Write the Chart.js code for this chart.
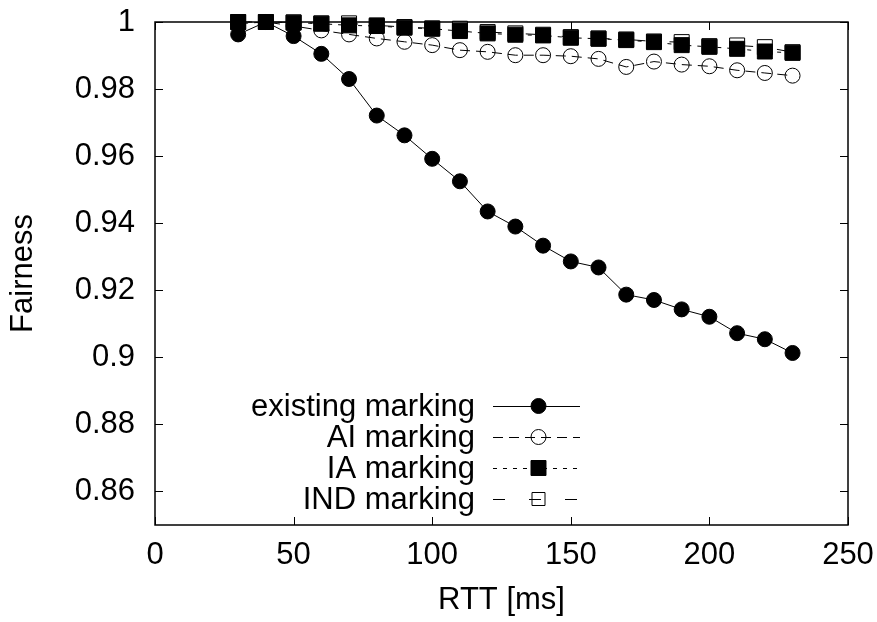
<!DOCTYPE html>
<html>
<head>
<meta charset="utf-8">
<script src="https://cdn.jsdelivr.net/npm/chart.js@4/dist/chart.umd.min.js"></script>
<style>
  html, body { margin: 0; padding: 0; background: #fff; }
  #wrap { width: 877px; height: 622px; }
</style>
</head>
<body>
<div id="wrap"><canvas id="chart" width="877" height="622"></canvas></div>
<script>
/* ========= Data ========= */
const rtt = [30, 40, 50, 60, 70, 80, 90, 100, 110, 120, 130, 140, 150, 160, 170, 180, 190, 200, 210, 220, 230];

const existingMarking = [0.9963, 1.0, 0.9958, 0.9905, 0.9830, 0.9721, 0.9662, 0.9592, 0.9525, 0.9435, 0.9390,
                         0.9333, 0.9286, 0.9268, 0.9187, 0.9171, 0.9143, 0.9121, 0.9072, 0.9054, 0.9013];
const aiMarking       = [0.9995, 1.0, 0.9988, 0.9975, 0.9963, 0.9951, 0.9941, 0.9931, 0.9916, 0.9911, 0.9901,
                         0.9901, 0.9898, 0.9890, 0.9866, 0.9882, 0.9873, 0.9868, 0.9856, 0.9848, 0.9840];
const iaMarking       = [1.0, 1.0, 0.9998, 0.9995, 0.9990, 0.9988, 0.9983, 0.9980, 0.9973, 0.9966, 0.9962,
                         0.9960, 0.9953, 0.9950, 0.9946, 0.9940, 0.9931, 0.9926, 0.9920, 0.9912, 0.9908];
const indMarking      = [1.0, 1.0, 0.9999, 0.9996, 0.9996, 0.9990, 0.9985, 0.9981, 0.9980, 0.9970, 0.9966,
                         0.9962, 0.9955, 0.9951, 0.9948, 0.9942, 0.9940, 0.9928, 0.9930, 0.9925, 0.9910];

const seriesNames = ['existing marking', 'AI marking', 'IA marking', 'IND marking'];
const xTicks = [0, 50, 100, 150, 200, 250];
const yTicks = [0.86, 0.88, 0.9, 0.92, 0.94, 0.96, 0.98, 1];

/* ========= Styles ========= */
const FONT = "'Liberation Sans', Arial, sans-serif";
const FSIZE = 31;
Chart.defaults.color = '#000';
Chart.defaults.font.family = FONT;

const styles = [
  { dash: [],        shape: 'circle', fill: true,  size: 7.5 },
  { dash: [10, 6],   shape: 'circle', fill: false, size: 7.5 },
  { dash: [4, 6],    shape: 'rect',   fill: true,  size: 10.6 },
  { dash: [12, 24],  shape: 'rect',   fill: false, size: 10.6 }
];

function makeSet(name, values, st, order) {
  return {
    label: name,
    data: rtt.map((x, i) => ({ x, y: values[i] })),
    borderColor: '#000',
    borderWidth: 1,
    borderDash: st.dash,
    pointStyle: st.shape,
    pointRadius: st.size,
    pointHoverRadius: st.size,
    pointBackgroundColor: st.fill ? '#000' : 'rgba(0,0,0,0)',
    pointBorderColor: '#000',
    pointBorderWidth: 1,
    tension: 0,
    clip: false,
    order
  };
}

/* ========= Plugins ========= */
// gnuplot style frame with inward ticks on all four sides
const framePlugin = {
  id: 'frame',
  beforeDatasetsDraw(chart) {
    const { ctx, chartArea: a, scales: { x, y } } = chart;
    ctx.save();
    ctx.strokeStyle = '#000';
    ctx.lineWidth = 1.5;
    ctx.strokeRect(a.left, a.top, a.right - a.left, a.bottom - a.top);
    ctx.lineWidth = 1;
    ctx.beginPath();
    xTicks.forEach(v => {
      const px = Math.round(x.getPixelForValue(v)) + 0.5;
      ctx.moveTo(px, a.bottom); ctx.lineTo(px, a.bottom - 8);
      ctx.moveTo(px, a.top);    ctx.lineTo(px, a.top + 8);
    });
    yTicks.forEach(v => {
      const py = Math.round(y.getPixelForValue(v)) + 0.5;
      ctx.moveTo(a.left, py);  ctx.lineTo(a.left + 8, py);
      ctx.moveTo(a.right, py); ctx.lineTo(a.right - 8, py);
    });
    ctx.stroke();
    ctx.restore();
  }
};

// legend: text right aligned, sample line with marker to its right
const legendPlugin = {
  id: 'keyBox',
  afterDraw(chart) {
    const { ctx } = chart;
    const textRight = 475, lineL = 493, lineR = 580, rowTop = 406, rowGap = 31;
    ctx.save();
    ctx.font = FSIZE + 'px ' + FONT;
    ctx.textAlign = 'right';
    ctx.textBaseline = 'middle';
    seriesNames.forEach((name, i) => {
      const st = styles[i];
      const yy = rowTop + i * rowGap;
      ctx.fillStyle = '#000';
      ctx.fillText(name, textRight, yy + 1);

      ctx.strokeStyle = '#000';
      ctx.lineWidth = 1;
      ctx.setLineDash(st.dash);
      ctx.beginPath();
      ctx.moveTo(lineL, yy + 0.5);
      ctx.lineTo(lineR, yy + 0.5);
      ctx.stroke();
      ctx.setLineDash([]);

      const cx = (lineL + lineR) / 2 + 2;
      ctx.beginPath();
      if (st.shape === 'circle') {
        ctx.arc(cx, yy, st.size, 0, Math.PI * 2);
      } else {
        const h = st.fill ? st.size * Math.SQRT1_2 : 6.5;
        ctx.rect(cx - h, yy - h, 2 * h, 2 * h);
      }
      if (st.fill) { ctx.fillStyle = '#000'; ctx.fill(); }
      ctx.stroke();
    });
    ctx.restore();
  }
};

/* ========= Chart ========= */
new Chart(document.getElementById('chart'), {
  type: 'line',
  data: {
    datasets: [
      makeSet(seriesNames[0], existingMarking, styles[0], 4),
      makeSet(seriesNames[1], aiMarking,       styles[1], 3),
      makeSet(seriesNames[2], iaMarking,       styles[2], 2),
      makeSet(seriesNames[3], indMarking,      styles[3], 1)
    ]
  },
  options: {
    responsive: false,
    animation: false,
    devicePixelRatio: 1,
    layout: { padding: { top: 22, right: 29, bottom: 0, left: 0 } },
    plugins: { legend: { display: false }, tooltip: { enabled: false } },
    scales: {
      x: {
        type: 'linear',
        min: 0, max: 250,
        grid: { display: false, drawTicks: false },
        border: { display: false },
        afterBuildTicks: s => { s.ticks = xTicks.map(v => ({ value: v })); },
        afterFit: s => { s.height = 97; s.paddingLeft = 0; s.paddingRight = 0; },
        ticks: { font: { size: FSIZE }, padding: 12, maxRotation: 0 },
        title: { display: true, text: 'RTT [ms]', font: { size: FSIZE }, padding: { top: 0, bottom: 3 } }
      },
      y: {
        type: 'linear',
        min: 0.85, max: 1,
        grid: { display: false, drawTicks: false },
        border: { display: false },
        afterBuildTicks: s => { s.ticks = yTicks.map(v => ({ value: v })); },
        afterFit: s => { s.width = 155; s.paddingTop = 0; s.paddingBottom = 0; },
        ticks: { font: { size: FSIZE }, padding: 20, callback: v => String(+v.toFixed(2)) },
        title: { display: true, text: 'Fairness', font: { size: FSIZE }, padding: { top: 5, bottom: 0 } }
      }
    }
  },
  plugins: [framePlugin, legendPlugin]
});
</script>
</body>
</html>
